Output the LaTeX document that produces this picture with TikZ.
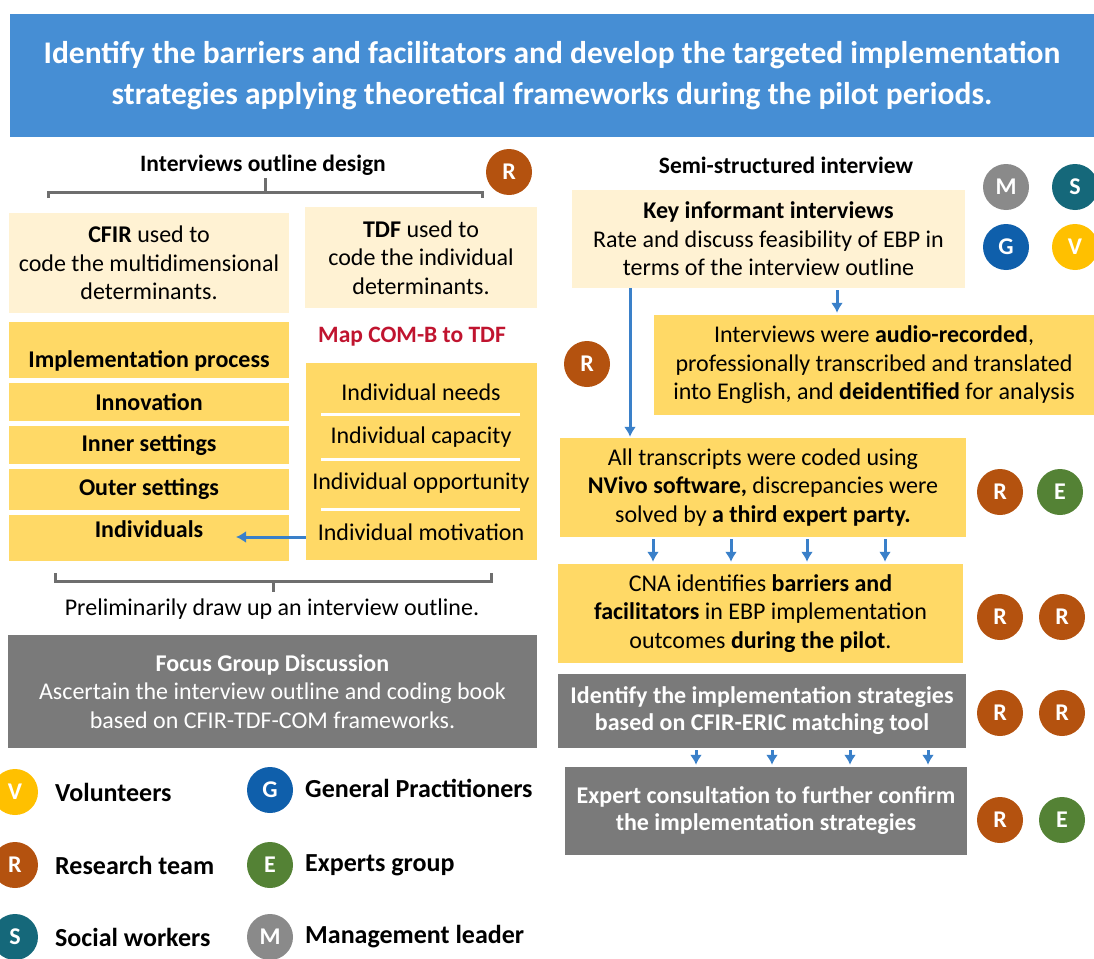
\documentclass[tikz,border=0pt]{standalone}
\usepackage{fontspec}
\setmainfont{Carlito}
\usetikzlibrary{arrows.meta}
\definecolor{headblue}{HTML}{468ED4}
\definecolor{flowblue}{HTML}{3A80C9}
\definecolor{paleyellow}{HTML}{FFF2D3}
\definecolor{boxyellow}{HTML}{FFD966}
\definecolor{boxgray}{HTML}{7A7A7A}
\definecolor{bracegray}{HTML}{6E6E6E}
\definecolor{mapred}{HTML}{C0142F}
\definecolor{roleR}{HTML}{B4520F}
\definecolor{roleE}{HTML}{548235}
\definecolor{roleG}{HTML}{0F5FAB}
\definecolor{roleS}{HTML}{15687A}
\definecolor{roleM}{HTML}{8A8A8A}
\definecolor{roleV}{HTML}{FFC000}
\tikzset{
  txt/.style={font=\fontsize{24}{28.5}\selectfont, align=center, inner sep=0pt},
  hdr/.style={txt, font=\fontsize{23.5}{28.5}\selectfont\bfseries},
  pale/.style={txt, fill=paleyellow},
  ybox/.style={txt, fill=boxyellow},
  gbox/.style={txt, fill=boxgray, text=white},
  badge/.style={circle, fill=#1, text=white, inner sep=0pt, minimum size=46pt,
    font=\fontsize{24}{24}\selectfont\bfseries},
  legtext/.style={anchor=west, inner sep=0pt, font=\fontsize{26}{26}\selectfont\bfseries},
  brace/.style={draw=bracegray, line width=3pt},
  flow/.style={draw=flowblue, line width=3pt, -{Latex[length=10pt,width=12pt]}},
}
\begin{document}
\begin{tikzpicture}[x=1pt, y=-1pt]
  \useasboundingbox (0,0) rectangle (1094,958);

  % banner
  \node [txt, fill=headblue, text=white, minimum width=1084pt, minimum height=123pt,
    font=\fontsize{31.5}{41}\selectfont\bfseries] (title) at (552,75.5)
    {Identify the barriers and facilitators and develop the targeted implementation\\
     strategies applying theoretical frameworks during the pilot periods.};

  % left column: outline design
  \node [hdr] (design) at (263,165) {Interviews outline design};
  \node [badge=roleR] (rTop) at (509,172) {R};
  \draw [brace] (48,198) -- (48,192) -- (482,192) -- (482,198);
  \draw [brace] (265,192) -- (265,178);

  \node [pale, minimum width=280pt, minimum height=100pt] (cfir) at (149,263)
    {\textbf{CFIR} used to\\code the multidimensional\\determinants.};
  \node [pale, minimum width=232pt, minimum height=101pt] (tdf) at (421,257.5)
    {\textbf{TDF} used to\\code the individual\\determinants.};

  \node [ybox, minimum width=280pt, minimum height=56pt, text height=40pt, text depth=6pt] (process) at (149,350) {\textbf{Implementation process}};
  \node [ybox, minimum width=280pt, minimum height=38pt] (innovation) at (149,402) {\textbf{Innovation}};
  \node [ybox, minimum width=280pt, minimum height=38pt] (inner) at (149,445) {\textbf{Inner settings}};
  \node [ybox, minimum width=280pt, minimum height=41pt] (outer) at (149,489.5) {\textbf{Outer settings}};
  \node [ybox, minimum width=280pt, minimum height=46pt, text height=14pt, text depth=16pt] (individuals) at (149,538) {\textbf{Individuals}};

  \node [hdr, text=mapred] (mapping) at (412,337) {Map COM-B to TDF};
  \node [ybox, minimum width=231pt, minimum height=197pt] (tdfitems) at (421.5,461.5) {};
  \node [txt] (needs) at (421,392) {Individual needs};
  \node [txt] (capacity) at (421,437) {Individual capacity};
  \node [txt] (opportunity) at (421,483) {Individual opportunity};
  \node [txt] (motivation) at (421,532) {Individual motivation};
  \foreach \y in {414,459,509}
    \draw [white, line width=3pt] (321,\y) -- (520,\y);

  \coordinate (into) at (236,537);
  \draw [flow] (into -| tdfitems.west) -- (into);

  \draw [brace] (55,573) -- (55,581) -- (491,581) -- (491,573);
  \draw [brace] (273,581) -- (273,592);
  \node [txt] (draft) at (272,609) {Preliminarily draw up an interview outline.};

  \node [gbox, minimum width=529pt, minimum height=113pt] (focus) at (272.5,691.5)
    {\textbf{Focus Group Discussion}\\Ascertain the interview outline and coding book\\based on CFIR-TDF-COM frameworks.};

  % legend
  \node [badge=roleV] (legV) at (15,792) {V};
  \node [badge=roleR] (legR) at (15,865) {R};
  \node [badge=roleS] (legS) at (15,937) {S};
  \node [badge=roleG] (legG) at (270,790) {G};
  \node [badge=roleE] (legE) at (270,865) {E};
  \node [badge=roleM] (legM) at (270,937) {M};
  \node [legtext] at (55,792) {Volunteers};
  \node [legtext] at (55,865) {Research team};
  \node [legtext] at (55,937) {Social workers};
  \node [legtext] at (305,788) {General Practitioners};
  \node [legtext] at (305,865) {Experts group};
  \node [legtext] at (305,937) {Management leader};

  % right column: interviews and analysis
  \node [hdr] (semi) at (786,165) {Semi-structured interview};
  \node [badge=roleM] at (1006,187) {M};
  \node [badge=roleS] at (1075,187) {S};
  \node [badge=roleG] at (1006,247) {G};
  \node [badge=roleV] at (1075,247) {V};

  \node [pale, minimum width=393pt, minimum height=98pt] (key) at (768.5,239)
    {\textbf{Key informant interviews}\\Rate and discuss feasibility of EBP in\\terms of the interview outline};
  \node [ybox, minimum width=440pt, minimum height=100pt] (audio) at (874,365)
    {Interviews were \textbf{audio-recorded},\\professionally transcribed and translated\\into English, and \textbf{deidentified} for analysis};
  \node [badge=roleR] (rMid) at (587,364) {R};

  \node [ybox, minimum width=406pt, minimum height=99pt] (nvivo) at (763,487.5)
    {All transcripts were coded using\\\textbf{NVivo software,} discrepancies were\\solved by \textbf{a third expert party.}};
  \node [badge=roleR] at (1000,492) {R};
  \node [badge=roleE] at (1060,492) {E};

  \node [ybox, minimum width=405pt, minimum height=99pt] (cna) at (760.5,613.5)
    {CNA identifies \textbf{barriers and}\\\textbf{facilitators} in EBP implementation\\outcomes \textbf{during the pilot}.};
  \node [badge=roleR] at (1000,617) {R};
  \node [badge=roleR] at (1062,617) {R};

  \node [gbox, minimum width=408pt, minimum height=74pt, font=\fontsize{24}{27}\selectfont\bfseries] (strategies) at (762,711)
    {Identify the implementation strategies\\based on CFIR-ERIC matching tool};
  \node [badge=roleR] at (1000,713) {R};
  \node [badge=roleR] at (1062,713) {R};

  \node [gbox, minimum width=402pt, minimum height=88pt, font=\fontsize{24}{27}\selectfont\bfseries] (consult) at (766,811)
    {Expert consultation to further confirm\\the implementation strategies};
  \node [badge=roleR] at (1000,820) {R};
  \node [badge=roleE] at (1062,820) {E};

  % arrows
  \draw [flow, shorten <=2pt, shorten >=2pt] (key.south -| 837,0) -- (audio.north -| 837,0);
  \draw [flow, shorten >=1pt] (key.south -| 630,0) -- (nvivo.north -| 630,0);
  \foreach \x in {653,731,807,885}
    \draw [flow, shorten <=2pt, shorten >=2pt] (nvivo.south -| \x,0) -- (cna.north -| \x,0);
  \foreach \x in {696,772,850,928}
    \draw [flow, shorten <=2pt, shorten >=2pt] (strategies.south -| \x,0) -- (consult.north -| \x,0);
\end{tikzpicture}
\end{document}
